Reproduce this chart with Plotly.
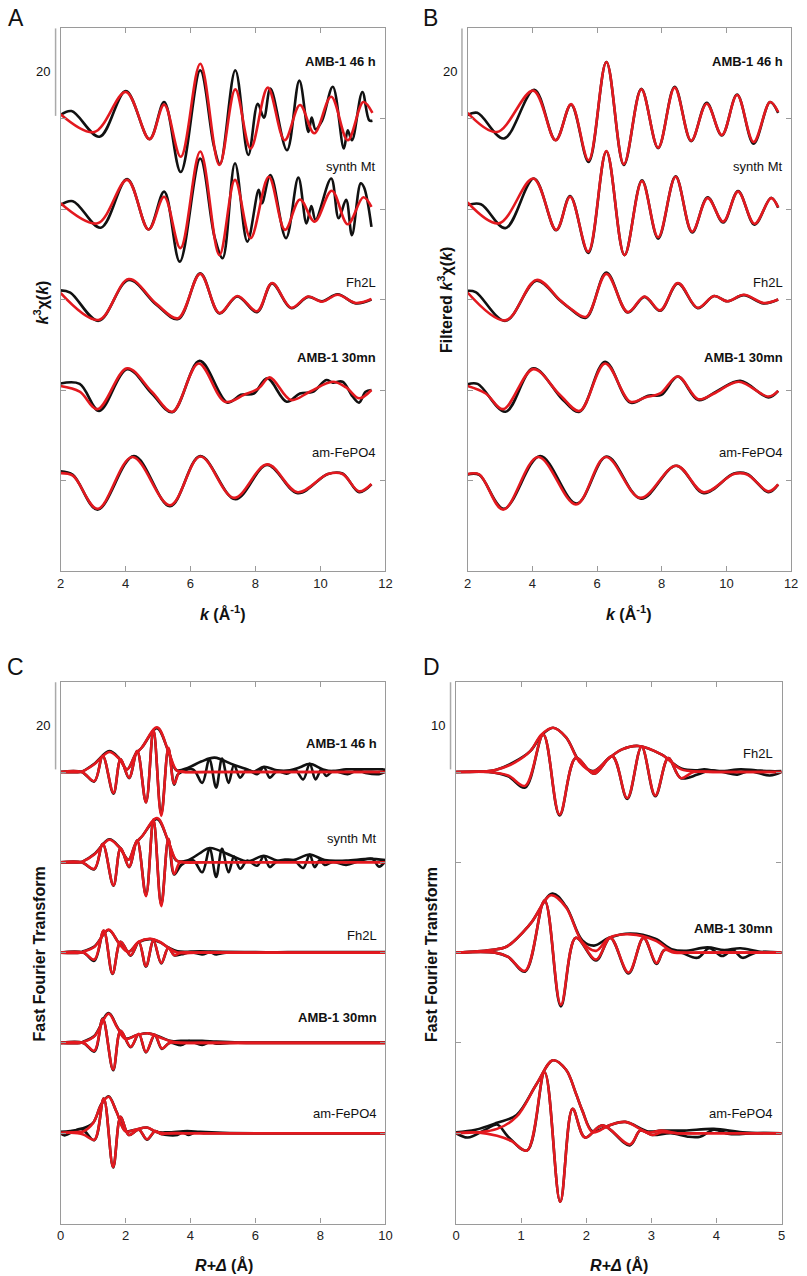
import plotly.graph_objects as go

W, H = 807, 1276
FONT = "Liberation Sans, Arial, Helvetica, sans-serif"
RED = "#e3191f"
BLK = "#111111"
GRAY = "#9a9a9a"

sample_names = ["AMB-1 46 h", "synth Mt", "Fh2L", "AMB-1 30mn", "am-FePO4"]
bold_names = {"AMB-1 46 h", "AMB-1 30mn"}
k_ticks = [2, 4, 6, 8, 10, 12]
rC_ticks = [0, 2, 4, 6, 8, 10]
rD_ticks = [0, 1, 2, 3, 4, 5]

# ---------------- Panel A : k3 chi(k) (data = black, fit = red) ----------------
A_46h_k_fit = [2.0, 3.04, 4.01, 4.74, 5.19, 5.70, 6.30, 6.89, 7.38, 7.85, 8.38, 8.90, 9.37, 9.81, 10.33, 10.84, 11.32, 11.60]
A_46h_y_fit = [1.0, -3.1, 6.1, -4.75, 3.2, -8.8, 12.6, -10.7, 6.7, -6.9, 7.1, -5.0, 3.1, -3.4, 5.0, -5.0, 3.8, 1.3]
A_46h_k_dat = [2.0, 2.34, 3.20, 4.01, 4.74, 5.19, 5.70, 6.30, 6.72, 6.91, 7.38, 7.78, 8.07, 8.26, 8.46, 8.97, 9.35, 9.63, 9.73, 9.85, 10.05, 10.38, 10.72, 10.84, 10.97, 11.29, 11.50, 11.60]
A_46h_y_dat = [0.8, 1.7, -4.2, 6.3, -4.75, 3.8, -12.3, 11.1, -6.3, -10.5, 11.1, -8.4, 3.4, 0.2, 6.9, -7.3, 8.7, -3.1, 0.2, -2.5, -0.5, 7.3, -6.9, -2.7, -5.0, 6.1, -0.4, -0.5]

A_mt_k_fit = [2.0, 3.14, 4.05, 4.71, 5.19, 5.69, 6.30, 6.89, 7.37, 7.85, 8.41, 8.91, 9.37, 9.82, 10.35, 10.84, 11.32, 11.57]
A_mt_y_fit = [1.3, -3.3, 6.7, -4.7, 2.8, -9.0, 13.2, -10.6, 6.7, -6.7, 7.4, -4.8, 2.2, -2.9, 4.2, -3.5, 2.7, 0.5]
A_mt_k_dat = [2.0, 2.38, 3.24, 4.05, 4.71, 5.19, 5.67, 6.30, 6.74, 6.99, 7.37, 7.75, 8.10, 8.20, 8.46, 8.94, 9.32, 9.57, 9.72, 9.85, 10.33, 10.56, 10.79, 10.97, 11.24, 11.34, 11.57]
A_mt_y_dat = [0.9, 1.8, -4.3, 6.9, -4.7, 4.0, -12.1, 11.6, -6.4, -11.3, 10.5, -7.5, 4.4, 1.3, 7.8, -6.7, 7.2, -3.3, 0.7, -2.5, 7.0, -2.1, 2.1, -6.0, 5.9, 5.0, -4.1]

A_fh_k_fit = [2.0, 3.17, 4.10, 4.95, 5.62, 6.30, 6.89, 7.44, 8.05, 8.51, 9.10, 9.62, 10.05, 10.53, 11.09, 11.57]
A_fh_y_fit = [1.5, -4.7, 4.7, -1.0, -4.3, 5.9, -3.1, 0.8, -2.7, 3.8, -1.9, 0.7, -0.5, 1.1, -0.8, 0.1]
A_fh_k_dat = [2.0, 2.3, 3.17, 4.10, 4.95, 5.62, 6.30, 6.89, 7.44, 8.05, 8.51, 9.10, 9.62, 10.05, 10.53, 11.09, 11.57]
A_fh_y_dat = [2.1, 1.6, -4.9, 4.5, -1.2, -4.5, 6.0, -3.2, 0.7, -2.9, 3.7, -2.0, 0.6, -0.4, 1.2, -0.9, 0.0]

A_30_k_fit = [2.0, 2.59, 3.14, 4.05, 4.81, 5.44, 6.25, 7.06, 7.65, 8.10, 8.44, 9.09, 9.67, 10.38, 10.79, 11.19, 11.57]
A_30_y_fit = [0.9, -0.4, -4.4, 5.0, -0.4, -5.0, 6.1, -2.7, -1.1, 0.4, 2.9, -2.3, -0.4, 1.9, 0.6, -1.9, 0.0]
A_30_k_dat = [2.0, 2.59, 3.19, 4.05, 4.81, 5.44, 6.28, 7.14, 7.55, 7.95, 8.36, 8.96, 9.37, 9.77, 10.18, 10.38, 10.68, 10.99, 11.19, 11.39, 11.57]
A_30_y_dat = [1.5, 1.4, -4.8, 4.8, -0.8, -5.1, 6.7, -2.9, -1.1, -0.8, 2.7, -2.7, -0.8, -0.4, 2.3, 1.7, 1.9, -1.5, -2.9, -0.4, 0.0]

A_fp_k_fit = [2.0, 2.38, 3.14, 4.21, 5.37, 6.30, 7.34, 8.36, 9.30, 10.23, 10.68, 11.19, 11.57]
A_fp_y_fit = [1.7, 1.1, -6.5, 5.4, -5.7, 5.5, -4.0, 3.7, -2.7, 1.5, 1.5, -2.5, -0.8]
A_fp_k_dat = [2.0, 2.38, 3.14, 4.26, 5.37, 6.30, 7.38, 8.36, 9.30, 10.23, 10.68, 11.19, 11.57]
A_fp_y_dat = [2.1, 1.3, -6.7, 5.6, -5.9, 5.6, -4.3, 3.6, -2.9, 1.5, 1.6, -2.7, -0.9]

# ---------------- Panel B : filtered k3 chi(k) ----------------
B_46h_k_fit = [2.0, 2.91, 4.03, 4.72, 5.20, 5.74, 6.29, 6.83, 7.37, 7.89, 8.40, 8.91, 9.39, 9.86, 10.33, 10.84, 11.35, 11.60]
B_46h_y_fit = [1.3, -3.1, 6.4, -5.0, 3.3, -9.6, 13.0, -10.5, 6.7, -6.7, 7.1, -5.1, 3.4, -3.8, 5.4, -5.4, 3.8, 1.5]
B_46h_k_dat = [2.0, 2.30, 3.12, 4.06, 4.72, 5.20, 5.74, 6.29, 6.83, 7.37, 7.89, 8.40, 8.91, 9.39, 9.86, 10.33, 10.84, 11.35, 11.60]
B_46h_y_dat = [0.8, 1.3, -4.6, 6.6, -5.0, 3.2, -10.0, 13.0, -10.7, 6.8, -6.8, 7.3, -5.2, 3.6, -3.9, 5.5, -5.8, 3.8, 1.3]

B_mt_k_fit = [2.0, 2.97, 4.03, 4.74, 5.17, 5.73, 6.29, 6.85, 7.39, 7.89, 8.43, 8.94, 9.42, 9.90, 10.36, 10.87, 11.38, 11.60]
B_mt_y_fit = [1.5, -3.3, 7.0, -4.8, 2.8, -9.8, 13.3, -10.6, 6.4, -6.5, 7.4, -5.2, 2.5, -2.9, 4.0, -3.4, 2.5, 0.4]
B_mt_k_dat = [2.0, 2.41, 3.17, 4.05, 4.74, 5.17, 5.73, 6.29, 6.85, 7.39, 7.89, 8.43, 8.94, 9.42, 9.90, 10.36, 10.87, 11.38, 11.60]
B_mt_y_dat = [0.9, 1.1, -4.4, 7.0, -4.9, 3.0, -10.1, 13.2, -10.6, 6.6, -6.8, 7.5, -5.4, 2.7, -3.1, 4.1, -3.6, 2.6, 0.3]

B_fh_k_fit = [2.0, 3.17, 4.13, 4.85, 5.15, 5.66, 6.29, 6.95, 7.47, 7.95, 8.50, 9.11, 9.62, 10.03, 10.54, 11.15, 11.60]
B_fh_y_fit = [1.6, -4.8, 4.5, -0.1, -1.9, -4.0, 5.9, -2.9, 0.7, -2.5, 3.8, -1.9, 0.8, -0.4, 1.1, -0.8, 0.0]
B_fh_k_dat = [2.0, 2.25, 3.17, 4.13, 4.85, 5.15, 5.66, 6.29, 6.95, 7.47, 7.95, 8.50, 9.11, 9.62, 10.03, 10.54, 11.15, 11.60]
B_fh_y_dat = [2.0, 1.7, -4.9, 4.3, -0.2, -2.0, -4.2, 6.2, -3.0, 0.6, -2.6, 3.7, -2.0, 0.8, -0.4, 1.0, -0.9, 0.0]

B_30_k_fit = [2.0, 2.56, 3.10, 4.03, 4.85, 5.46, 6.25, 7.03, 7.49, 7.95, 8.50, 9.13, 9.62, 10.38, 11.30, 11.60]
B_30_y_fit = [0.9, -0.8, -4.4, 4.8, -1.1, -4.8, 6.1, -2.7, -1.7, -0.8, 3.1, -2.1, -0.8, 1.9, -1.5, -0.2]
B_30_k_dat = [2.0, 2.31, 3.17, 4.03, 4.95, 5.46, 6.25, 7.03, 7.58, 7.99, 8.50, 9.13, 9.72, 10.43, 11.30, 11.60]
B_30_y_dat = [1.3, 1.4, -5.0, 5.0, -2.3, -5.0, 6.5, -2.9, -1.3, -1.1, 3.1, -2.3, -0.2, 2.1, -1.7, -0.2]

B_fp_k_fit = [2.0, 2.36, 3.10, 4.18, 5.35, 6.27, 7.34, 8.45, 9.30, 10.23, 10.64, 11.30, 11.60]
B_fp_y_fit = [1.5, 1.4, -6.7, 5.4, -5.5, 5.4, -4.0, 3.4, -2.7, 1.5, 1.4, -2.5, -0.9]
B_fp_k_dat = [2.0, 2.36, 3.12, 4.24, 5.37, 6.30, 7.36, 8.45, 9.30, 10.23, 10.64, 11.30, 11.60]
B_fp_y_dat = [1.4, 1.3, -6.5, 5.6, -5.3, 5.5, -4.2, 3.4, -2.9, 1.6, 1.5, -2.7, -0.9]

# ---------------- Panel C : FT magnitude + imaginary part, R 0-10 ----------------
C_46h_Rm_fit = [0, 0.6, 0.69, 1.04, 1.50, 1.80, 2.05, 2.31, 2.51, 2.97, 3.32, 3.57, 3.75, 4.5, 5.5, 6.5, 7.5, 8.5, 9.5, 10]
C_46h_m_fit = [0, 0, 0.2, 1.8, 4.6, 3.1, 0.6, 4.1, 5.7, 10.3, 4.8, 0.4, 0, 0, 0, 0, 0, 0, 0, 0]
C_46h_Ri_fit = [0, 0.65, 1.04, 1.30, 1.63, 1.85, 2.11, 2.36, 2.63, 2.86, 3.10, 3.32, 3.50, 3.67, 3.85, 4.5, 5.5, 6.5, 7.5, 8.5, 9.5, 10]
C_46h_i_fit = [0, 0, -2.1, 3.7, -4.8, 2.9, -1.3, 4.8, -7.0, 9.8, -10.1, 5.6, -2.7, 0.1, 0, 0, 0, 0, 0, 0, 0, 0]
C_46h_Rm_dat = [0, 0.6, 0.69, 1.04, 1.50, 1.80, 2.05, 2.31, 2.51, 2.97, 3.32, 3.57, 3.93, 4.33, 4.74, 5.34, 5.75, 5.95, 6.26, 6.66, 7.06, 7.37, 7.67, 8.08, 8.38, 8.79, 9.39, 9.90, 10]
C_46h_m_dat = [0, 0, 0.2, 1.9, 4.8, 3.2, 0.6, 4.1, 5.7, 10.1, 4.8, 0.4, 1.0, 2.4, 3.3, 1.6, 0.6, 0.1, 1.2, 0.4, 0.4, 1.1, 1.9, 0.6, 0.2, 0.6, 0.6, 0.6, 0.5]
C_46h_Ri_dat = [0, 0.65, 1.04, 1.30, 1.63, 1.85, 2.11, 2.36, 2.63, 2.86, 3.10, 3.32, 3.50, 3.62, 4.08, 4.36, 4.58, 4.79, 4.97, 5.17, 5.34, 5.53, 5.73, 6.05, 6.26, 6.44, 6.66, 6.96, 7.22, 7.47, 7.67, 7.85, 8.03, 8.18, 8.38, 8.84, 9.14, 9.39, 9.80, 10.0]
C_46h_i_dat = [0, 0, -2.2, 3.7, -5.0, 2.9, -1.4, 4.8, -7.0, 9.6, -9.7, 5.4, -2.9, -0.5, 0.6, -2.5, 2.9, -3.6, 3.1, -2.5, 1.6, -1.3, 0.5, -0.5, 1.1, -1.3, 0.2, -0.4, 0.5, -1.7, 1.9, -1.7, 0.6, -0.9, 0.2, -0.5, 0.4, -0.2, -0.5, 0.1]

C_mt_Rm_fit = [0, 0.6, 0.69, 1.04, 1.50, 1.80, 2.09, 2.31, 2.51, 2.97, 3.32, 3.57, 3.75, 4.5, 5.5, 6.5, 7.5, 8.5, 9.5, 10]
C_mt_m_fit = [0, 0, 0.2, 1.8, 5.2, 3.5, 0.6, 4.3, 6.0, 10.2, 4.8, 0.4, 0, 0, 0, 0, 0, 0, 0, 0]
C_mt_Ri_fit = [0, 0.65, 1.04, 1.30, 1.63, 1.85, 2.11, 2.36, 2.63, 2.86, 3.10, 3.32, 3.50, 3.67, 3.85, 4.5, 5.5, 6.5, 7.5, 8.5, 9.5, 10]
C_mt_i_fit = [0, 0, -1.5, 4.2, -5.3, 3.3, -1.0, 5.0, -7.8, 9.9, -10.1, 5.4, -2.7, 0, 0, 0, 0, 0, 0, 0, 0, 0]
C_mt_Rm_dat = [0, 0.6, 0.69, 1.04, 1.50, 1.80, 2.09, 2.31, 2.51, 2.97, 3.32, 3.57, 3.93, 4.33, 4.59, 5.34, 5.75, 6.26, 6.66, 7.17, 7.67, 8.13, 8.79, 9.50, 10.0]
C_mt_m_dat = [0, 0, 0.2, 1.9, 5.3, 3.6, 0.6, 4.3, 6.0, 10.0, 4.8, 0.4, 0.5, 2.3, 3.3, 1.3, 0.2, 1.5, 0.4, 0.5, 1.8, 0.5, 0.4, 0.8, 0.5]
C_mt_Ri_dat = [0, 0.65, 1.04, 1.30, 1.63, 1.85, 2.11, 2.36, 2.63, 2.86, 3.10, 3.32, 3.50, 3.72, 4.08, 4.36, 4.59, 4.79, 4.97, 5.17, 5.34, 5.53, 5.75, 6.05, 6.26, 6.44, 6.66, 7.17, 7.47, 7.67, 7.82, 7.98, 8.13, 8.38, 8.79, 9.19, 9.60, 9.80, 10.0]
C_mt_i_dat = [0, 0, -1.6, 4.2, -5.4, 3.3, -1.1, 5.0, -7.6, 9.8, -9.8, 5.3, -2.8, -0.6, 0.5, -2.3, 3.1, -3.4, 3.1, -2.3, 1.3, -1.5, 0.4, -0.8, 1.4, -1.1, 0.2, 0.5, -1.3, 1.8, -1.1, 0.5, -0.6, 0.1, -0.6, 0.3, 0.8, -1.0, 0.3]

C_fh_Rm_fit = [0, 0.6, 0.70, 1.04, 1.48, 1.80, 2.09, 2.41, 2.76, 3.05, 3.32, 3.60, 4.2, 5, 6, 7, 8, 9, 10]
C_fh_m_fit = [0, 0, 0.2, 1.3, 5.3, 2.1, 0.15, 2.5, 3.2, 2.5, 1.1, 0, 0, 0, 0, 0, 0, 0, 0]
C_fh_Ri_fit = [0, 0.70, 1.04, 1.33, 1.60, 1.85, 2.16, 2.41, 2.63, 2.86, 3.10, 3.32, 3.50, 3.70, 4.2, 5, 6, 7, 8, 9, 10]
C_fh_i_fit = [0, 0, -1.6, 5.1, -4.8, 2.5, -0.6, 2.5, -3.1, 2.8, -2.4, 1.1, -0.6, 0, 0, 0, 0, 0, 0, 0, 0]
C_fh_Rm_dat = [0, 0.6, 0.70, 1.04, 1.48, 1.80, 2.09, 2.41, 2.76, 3.05, 3.32, 3.60, 4.3, 5.0, 6.0, 7, 8, 9, 10]
C_fh_m_dat = [0, 0, 0.3, 1.4, 5.2, 2.2, 0.2, 2.4, 3.1, 2.4, 1.2, 0.3, 0.3, 0.2, 0.1, 0.1, 0.1, 0.1, 0.1]
C_fh_Ri_dat = [0, 0.70, 1.04, 1.33, 1.60, 1.85, 2.16, 2.41, 2.63, 2.86, 3.10, 3.32, 3.50, 3.72, 4.0, 4.36, 4.6, 4.79, 5.1, 6.0, 7, 8, 9, 10]
C_fh_i_dat = [0, 0, -1.9, 5.0, -4.9, 2.5, -0.7, 2.4, -3.2, 2.7, -2.5, 1.1, -0.6, -0.4, 0.1, -0.4, 0.1, -0.4, 0, 0, 0, 0, 0, 0]

C_30_Rm_fit = [0, 0.6, 0.70, 1.04, 1.48, 1.75, 2.0, 2.35, 2.71, 3.05, 3.42, 3.70, 4.3, 5, 6, 7, 8, 9, 10]
C_30_m_fit = [0, 0, 0.2, 1.5, 6.7, 3.5, 0.9, 1.8, 2.2, 1.3, 0.3, 0, 0, 0, 0, 0, 0, 0, 0]
C_30_Ri_fit = [0, 0.70, 1.04, 1.30, 1.62, 1.85, 2.16, 2.41, 2.63, 2.90, 3.12, 3.35, 3.7, 4.3, 5, 6, 7, 8, 9, 10]
C_30_i_fit = [0, 0, -1.8, 5.5, -6.1, 2.8, -0.9, 2.1, -2.1, 1.9, -1.3, 0, 0, 0, 0, 0, 0, 0, 0, 0]
C_30_Rm_dat = [0, 0.6, 0.70, 1.04, 1.48, 1.75, 2.0, 2.35, 2.71, 3.05, 3.42, 3.70, 4.0, 4.36, 4.8, 5.5, 6.5, 7.5, 8.5, 10]
C_30_m_dat = [0, 0, 0.3, 1.6, 6.9, 3.6, 1.0, 1.8, 2.2, 1.4, 0.4, 0.5, 0.5, 0.5, 0.3, 0.1, 0.1, 0.1, 0.1, 0.1]
C_30_Ri_dat = [0, 0.70, 1.04, 1.30, 1.62, 1.85, 2.16, 2.41, 2.63, 2.90, 3.12, 3.35, 3.72, 3.95, 4.36, 4.6, 4.8, 5.2, 6, 7, 8, 9, 10]
C_30_i_dat = [0, 0, -2.0, 5.6, -6.3, 2.8, -1.0, 2.0, -2.2, 1.8, -1.4, 0, -0.5, 0.4, -0.5, 0.2, -0.2, 0, 0, 0, 0, 0, 0]

C_fp_Rm_fit = [0, 0.6, 0.70, 1.0, 1.25, 1.48, 1.72, 2.0, 2.3, 2.66, 2.95, 3.2, 3.7, 4.5, 5.5, 6.5, 7.5, 8.5, 10]
C_fp_m_fit = [0.1, 0.3, 0.4, 2.3, 6.5, 8.4, 5.0, 0.4, 0.8, 1.3, 0.3, 0, 0, 0, 0, 0, 0, 0, 0]
C_fp_Ri_fit = [0, 0.3, 0.7, 1.04, 1.33, 1.62, 1.85, 2.10, 2.41, 2.66, 2.92, 3.10, 3.30, 3.8, 4.5, 5.5, 6.5, 7.5, 8.5, 10]
C_fp_i_fit = [0, 0.1, -0.3, -1.5, 8.0, -7.8, 3.8, -0.4, 0.8, -1.4, 0.5, -0.2, 0, 0, 0, 0, 0, 0, 0, 0]
C_fp_Rm_dat = [0, 0.3, 0.64, 1.0, 1.25, 1.48, 1.72, 2.0, 2.3, 2.66, 2.95, 3.3, 3.9, 4.3, 5.0, 6, 7, 8, 9, 10]
C_fp_m_dat = [0.3, 0.5, 1.0, 2.4, 6.6, 8.5, 5.0, 0.5, 0.8, 1.3, 0.3, 0.2, 0.5, 0.3, 0.1, 0, 0, 0, 0, 0]
C_fp_Ri_dat = [0, 0.13, 0.64, 1.04, 1.33, 1.62, 1.85, 2.10, 2.41, 2.66, 2.92, 3.10, 3.6, 3.75, 3.95, 4.15, 4.4, 5, 6, 7, 8, 9, 10]
C_fp_i_dat = [0, -0.5, 1.0, -1.6, 8.0, -7.9, 3.8, -0.4, 0.8, -1.5, 0.5, -0.2, -0.4, 0.2, -0.4, 0.2, 0, 0, 0, 0, 0, 0, 0]

# ---------------- Panel D : FT magnitude + imaginary part, R 0-5 ----------------
D_fh_Rm_fit = [0, 0.4, 0.63, 0.88, 1.14, 1.31, 1.49, 1.69, 1.89, 2.10, 2.35, 2.55, 2.80, 3.16, 3.46, 3.70, 4.1, 4.5, 5]
D_fh_m_fit = [0, 0.05, 0.3, 1.0, 2.4, 4.3, 5.1, 4.0, 1.2, 0.05, 1.6, 2.6, 3.0, 2.0, 0.3, 0.05, 0, 0, 0]
D_fh_Ri_fit = [0, 0.5, 0.8, 1.06, 1.34, 1.59, 1.84, 2.12, 2.40, 2.63, 2.85, 3.06, 3.26, 3.45, 3.65, 4.0, 4.5, 5]
D_fh_i_fit = [0, 0, -0.4, -1.6, 4.3, -4.9, 1.6, -0.2, 1.8, -3.0, 2.9, -2.7, 1.6, -0.7, 0, 0, 0, 0]
D_fh_Rm_dat = [0, 0.4, 0.63, 0.88, 1.14, 1.31, 1.49, 1.69, 1.89, 2.10, 2.35, 2.55, 2.80, 3.16, 3.46, 3.71, 3.81, 4.05, 4.37, 4.6, 4.82, 5]
D_fh_m_dat = [0, 0.05, 0.3, 1.1, 2.4, 4.2, 5.1, 4.0, 1.3, 0.1, 1.6, 2.6, 3.0, 2.0, 0.4, 0.2, 0.3, 0.1, 0.3, 0.2, 0.1, 0.1]
D_fh_Ri_dat = [0, 0.5, 0.8, 1.06, 1.34, 1.59, 1.84, 2.12, 2.40, 2.63, 2.85, 3.06, 3.26, 3.45, 3.71, 3.90, 4.10, 4.32, 4.5, 4.82, 5]
D_fh_i_dat = [0, 0, -0.5, -1.8, 4.3, -5.0, 1.6, -0.2, 1.8, -3.1, 2.9, -2.8, 1.6, -0.7, -0.3, 0.2, 0, -0.3, 0.1, -0.4, 0]

D_30_Rm_fit = [0, 0.53, 0.78, 1.14, 1.46, 1.69, 1.94, 2.15, 2.35, 2.68, 3.06, 3.31, 3.50, 3.9, 4.4, 5]
D_30_m_fit = [0, 0.3, 0.7, 3.3, 6.6, 5.2, 1.2, 0.2, 1.7, 2.1, 1.4, 0.2, 0, 0, 0, 0]
D_30_Ri_fit = [0, 0.6, 0.8, 1.06, 1.36, 1.61, 1.84, 2.15, 2.37, 2.65, 2.88, 3.08, 3.20, 3.35, 3.7, 4.2, 4.6, 5]
D_30_i_fit = [0, 0, -0.5, -2.1, 6.0, -6.0, 1.7, -0.8, 1.7, -2.3, 1.7, -1.2, 0.3, 0, 0, 0, 0, 0]
D_30_Rm_dat = [0, 0.53, 0.78, 1.14, 1.48, 1.69, 1.94, 2.12, 2.35, 2.68, 3.06, 3.31, 3.51, 3.86, 4.12, 4.37, 4.67, 5]
D_30_m_dat = [0, 0.3, 0.7, 3.3, 6.8, 5.3, 1.4, 0.8, 1.7, 2.2, 1.6, 0.4, 0.2, 0.6, 0.3, 0.5, 0.1, 0]
D_30_Ri_dat = [0, 0.6, 0.8, 1.06, 1.36, 1.61, 1.84, 2.15, 2.37, 2.65, 2.88, 3.08, 3.20, 3.45, 3.71, 3.89, 4.09, 4.25, 4.40, 4.6, 5]
D_30_i_dat = [0, 0, -0.5, -2.2, 6.0, -6.2, 1.7, -0.9, 1.7, -2.4, 1.7, -1.3, 0.3, 0, -0.6, 0.5, -0.4, 0.3, -0.6, 0, 0]

D_fp_Rm_fit = [0, 0.63, 0.93, 1.24, 1.49, 1.69, 1.84, 1.94, 2.10, 2.35, 2.60, 2.95, 3.15, 3.4, 3.8, 4.3, 5]
D_fp_m_fit = [0, 0.5, 1.9, 5.7, 8.4, 7.3, 4.6, 2.6, 0.1, 0.9, 1.3, 0.1, 0.3, 0, 0, 0, 0]
D_fp_Ri_fit = [0, 0.33, 0.63, 0.85, 1.09, 1.36, 1.60, 1.79, 1.98, 2.25, 2.67, 2.83, 3.01, 3.16, 3.4, 3.8, 4.3, 5]
D_fp_i_fit = [0, 0.1, -0.3, -0.9, -2.0, 7.0, -7.9, 2.8, -0.5, 0.9, -1.3, 0.3, -0.2, 0.1, 0, 0, 0, 0]
D_fp_Rm_dat = [0, 0.3, 0.63, 0.93, 1.24, 1.49, 1.69, 1.84, 1.94, 2.10, 2.35, 2.60, 2.95, 3.15, 3.51, 3.96, 4.4, 5]
D_fp_m_dat = [0.1, 0.4, 1.2, 2.1, 5.7, 8.4, 7.3, 4.6, 2.6, 0.2, 0.9, 1.3, 0.2, 0.3, 0.3, 0.5, 0.1, 0]
D_fp_Ri_dat = [0, 0.18, 0.45, 0.63, 0.80, 1.09, 1.36, 1.60, 1.79, 1.98, 2.25, 2.67, 2.83, 3.01, 3.3, 3.56, 3.75, 3.96, 4.2, 4.6, 5]
D_fp_i_dat = [0, -0.5, 0.4, 1.0, -0.4, -2.0, 7.0, -7.9, 2.8, -0.5, 0.9, -1.4, 0.3, -0.2, 0, -0.4, -0.4, 0.4, -0.1, 0, 0]

# ---------------- layout helpers ----------------
S = 20.8      # vertical spacing between stacked curves (A, B, C)
SD = 10.4     # spacing unit in panel D
LW = 2.6


def pxx(x):
    return x / W


def pxy(y):
    return 1 - y / H


fig = go.Figure()


def add(xs, ys, off, color, ax):
    fig.add_trace(go.Scatter(
        x=xs, y=[v + off for v in ys], mode="lines",
        line=dict(color=color, width=LW, shape="spline", smoothing=1.0),
        xaxis="x" + ax, yaxis="y" + ax, showlegend=False, hoverinfo="skip"))


panelA = [(A_46h_k_dat, A_46h_y_dat, A_46h_k_fit, A_46h_y_fit),
          (A_mt_k_dat, A_mt_y_dat, A_mt_k_fit, A_mt_y_fit),
          (A_fh_k_dat, A_fh_y_dat, A_fh_k_fit, A_fh_y_fit),
          (A_30_k_dat, A_30_y_dat, A_30_k_fit, A_30_y_fit),
          (A_fp_k_dat, A_fp_y_dat, A_fp_k_fit, A_fp_y_fit)]
panelB = [(B_46h_k_dat, B_46h_y_dat, B_46h_k_fit, B_46h_y_fit),
          (B_mt_k_dat, B_mt_y_dat, B_mt_k_fit, B_mt_y_fit),
          (B_fh_k_dat, B_fh_y_dat, B_fh_k_fit, B_fh_y_fit),
          (B_30_k_dat, B_30_y_dat, B_30_k_fit, B_30_y_fit),
          (B_fp_k_dat, B_fp_y_dat, B_fp_k_fit, B_fp_y_fit)]
panelC = [(C_46h_Rm_dat, C_46h_m_dat, C_46h_Ri_dat, C_46h_i_dat, C_46h_Rm_fit, C_46h_m_fit, C_46h_Ri_fit, C_46h_i_fit),
          (C_mt_Rm_dat, C_mt_m_dat, C_mt_Ri_dat, C_mt_i_dat, C_mt_Rm_fit, C_mt_m_fit, C_mt_Ri_fit, C_mt_i_fit),
          (C_fh_Rm_dat, C_fh_m_dat, C_fh_Ri_dat, C_fh_i_dat, C_fh_Rm_fit, C_fh_m_fit, C_fh_Ri_fit, C_fh_i_fit),
          (C_30_Rm_dat, C_30_m_dat, C_30_Ri_dat, C_30_i_dat, C_30_Rm_fit, C_30_m_fit, C_30_Ri_fit, C_30_i_fit),
          (C_fp_Rm_dat, C_fp_m_dat, C_fp_Ri_dat, C_fp_i_dat, C_fp_Rm_fit, C_fp_m_fit, C_fp_Ri_fit, C_fp_i_fit)]
panelD = [(D_fh_Rm_dat, D_fh_m_dat, D_fh_Ri_dat, D_fh_i_dat, D_fh_Rm_fit, D_fh_m_fit, D_fh_Ri_fit, D_fh_i_fit),
          (D_30_Rm_dat, D_30_m_dat, D_30_Ri_dat, D_30_i_dat, D_30_Rm_fit, D_30_m_fit, D_30_Ri_fit, D_30_i_fit),
          (D_fp_Rm_dat, D_fp_m_dat, D_fp_Ri_dat, D_fp_i_dat, D_fp_Rm_fit, D_fp_m_fit, D_fp_Ri_fit, D_fp_i_fit)]

for i, (kd, yd, kf, yf) in enumerate(panelA):
    add(kd, yd, -i * S, BLK, "")
    add(kf, yf, -i * S, RED, "")
for i, (kd, yd, kf, yf) in enumerate(panelB):
    add(kd, yd, -i * S, BLK, "2")
    add(kf, yf, -i * S, RED, "2")
for i, c in enumerate(panelC):
    off = -i * S
    add(c[0], c[1], off, BLK, "3")
    add(c[2], c[3], off, BLK, "3")
    add(c[4], c[5], off, RED, "3")
    add(c[6], c[7], off, RED, "3")
for i, c in enumerate(panelD):
    off = -2 * i * SD
    add(c[0], c[1], off, BLK, "4")
    add(c[2], c[3], off, BLK, "4")
    add(c[4], c[5], off, RED, "4")
    add(c[6], c[7], off, RED, "4")


def xaxis(dom, anchor, rng, tv):
    return dict(domain=dom, anchor=anchor, range=rng, tickvals=tv, ticktext=[str(t) for t in tv],
                ticks="inside", ticklen=5, tickwidth=1, tickcolor=GRAY, showline=True, linecolor=GRAY,
                linewidth=1.2, mirror="ticks", showgrid=False, zeroline=False,
                tickfont=dict(family=FONT, size=13, color="#222"))


def yaxis(dom, anchor, rng, tv):
    return dict(domain=dom, anchor=anchor, range=rng, tickvals=tv, showticklabels=False,
                ticks="inside", ticklen=5, tickwidth=1, tickcolor=GRAY, showline=True, linecolor=GRAY,
                linewidth=1.2, mirror="ticks", showgrid=False, zeroline=False)


xL = [pxx(57.3), pxx(386.7)]
xB = [pxx(470), pxx(798)]
xD = [pxx(458.3), pxx(788.3)]
yTop = [pxy(571), pxy(28)]
yBot = [pxy(1223.5), pxy(681.7)]
yrng = [-5 * S, S]
yrngD = [-5 * SD, SD]
ytv = [-j * S for j in range(5)]
ytvD = [-j * SD for j in range(5)]

ann = []


def text(x, y, s, size, xanchor="center", yanchor="middle", angle=0):
    ann.append(dict(x=pxx(x), y=pxy(y), xref="paper", yref="paper", text=s, showarrow=False,
                    xanchor=xanchor, yanchor=yanchor, textangle=angle,
                    font=dict(family=FONT, size=size, color="#111")))


def label(name, xr, y):
    s = "<b>%s</b>" % name if name in bold_names else name
    text(xr, y, s, 13, xanchor="right")


# curve labels
for name, y in zip(sample_names, [62, 166, 283, 358, 453]):
    label(name, 379, y)
    label(name, 792, y)
for name, y in zip(sample_names, [743, 838, 935, 1017, 1113]):
    label(name, 380, y)
for name, y in zip(["Fh2L", "AMB-1 30mn", "am-FePO4"], [753, 928, 1113]):
    label(name, 782, y)

# panel letters
text(12, 18, "A", 23)
text(432, 18, "B", 23)
text(12, 667, "C", 23)
text(433, 667, "D", 23)

# axis titles
text(222, 613, "<b><i>k</i> (Å<sup>-1</sup>)</b>", 16)
text(634, 613, "<b><i>k</i> (Å<sup>-1</sup>)</b>", 16)
text(223, 1265, "<b><i>R+Δ</i> (Å)</b>", 16)
text(623, 1265, "<b><i>R+Δ</i> (Å)</b>", 16)
text(38, 302, "<b><i>k</i><sup>3</sup>χ(<i>k</i>)</b>", 16, angle=-90)
text(447, 300, "<b>Filtered <i>k</i><sup>3</sup>χ(<i>k</i>)</b>", 16, angle=-90)
text(35, 954, "<b>Fast Fourier Transform</b>", 16, angle=-90)
text(433, 955, "<b>Fast Fourier Transform</b>", 16, angle=-90)

# scale bar labels
text(40, 72, "20", 13)
text(452, 72, "20", 13)
text(40, 725, "20", 13)
text(440, 725, "10", 13)

shapes = []
for xpix, yref, top in [(52.3, "y", 20.7), (464.3, "y2", 20.7), (52.3, "y3", 20.7), (452.7, "y4", 10.35)]:
    shapes.append(dict(type="line", xref="paper", yref=yref, x0=pxx(xpix), x1=pxx(xpix),
                       y0=0.6 if top > 15 else 0.3, y1=top, line=dict(color="#aaaaaa", width=1.5)))

fig.update_layout(
    width=W, height=H, autosize=False,
    margin=dict(l=0, r=0, t=0, b=0),
    paper_bgcolor="white", plot_bgcolor="white",
    xaxis=xaxis(xL, "y", [2, 12], k_ticks),
    yaxis=yaxis(yTop, "x", yrng, ytv),
    xaxis2=xaxis(xB, "y2", [2, 12], k_ticks),
    yaxis2=yaxis(yTop, "x2", yrng, ytv),
    xaxis3=xaxis(xL, "y3", [0, 10], rC_ticks),
    yaxis3=yaxis(yBot, "x3", yrng, ytv),
    xaxis4=xaxis(xD, "y4", [0, 5], rD_ticks),
    yaxis4=yaxis(yBot, "x4", yrngD, ytvD),
    annotations=ann, shapes=shapes,
)

fig.write_html("out.html", config={"displayModeBar": False},
               post_script="document.body.style.margin='0';document.body.style.padding='0';")
